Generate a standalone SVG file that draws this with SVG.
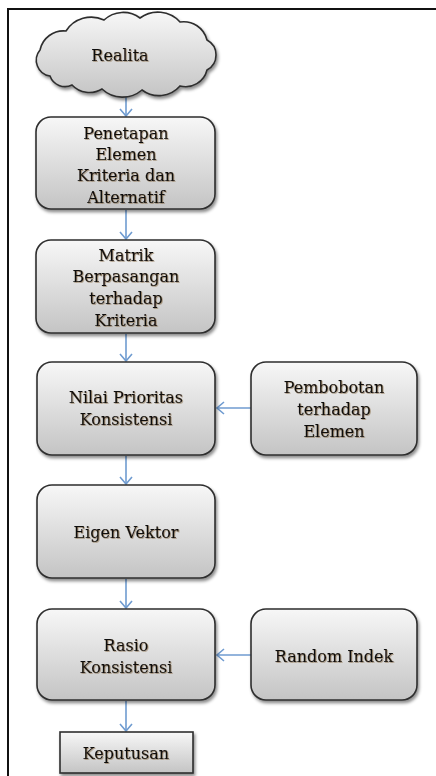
<svg xmlns="http://www.w3.org/2000/svg" width="436" height="776" viewBox="0 0 436 776">
<defs>
<linearGradient id="g" x1="0" y1="0" x2="0" y2="1">
<stop offset="0" stop-color="#f7f7f7"/>
<stop offset="1" stop-color="#c4c4c4"/>
</linearGradient>
<filter id="sh" x="-10%" y="-10%" width="125%" height="130%">
<feDropShadow dx="1.5" dy="2.5" stdDeviation="1.8" flood-color="#000" flood-opacity="0.45"/>
</filter>
<filter id="ts" x="-5%" y="-20%" width="110%" height="150%">
<feDropShadow dx="0.8" dy="0.8" stdDeviation="0.5" flood-color="#7a5a30" flood-opacity="0.6"/>
</filter>
<marker id="ah" markerWidth="14" markerHeight="14" refX="10" refY="7" orient="auto" markerUnits="userSpaceOnUse">
<path d="M3 1 L10 7 L3 13" fill="none" stroke="#6f9bd0" stroke-width="1.6"/>
</marker>
</defs>
<style>
.box{fill:url(#g);stroke:#2e2e2e;stroke-width:1.6;filter:url(#sh)}
.t{font-family:"DejaVu Serif","Liberation Serif",serif;font-size:16px;fill:#111;stroke:#111;stroke-width:0.12;text-anchor:middle;dominant-baseline:central;filter:url(#ts)}
.c{stroke:#6f9bd0;stroke-width:1.6;fill:none;marker-end:url(#ah)}
</style>
<rect width="436" height="776" fill="#fff"/>
<path d="M8 776 V9 H436" fill="none" stroke="#111" stroke-width="2"/>
<g id="connectors">
<line class="c" x1="126" y1="92" x2="126" y2="116"/>
<line class="c" x1="126" y1="210" x2="126" y2="239"/>
<line class="c" x1="126" y1="334" x2="126" y2="361"/>
<line class="c" x1="126" y1="456" x2="126" y2="484"/>
<line class="c" x1="126" y1="579" x2="126" y2="608"/>
<line class="c" x1="126" y1="701" x2="126" y2="731"/>
<line class="c" x1="251" y1="408" x2="217" y2="408"/>
<line class="c" x1="251" y1="655" x2="217" y2="655"/>
</g>
<g id="realita">
<path class="box" d="M50 76 A16 16 0 0 1 40 50 A24 24 0 0 1 66 31 A30 30 0 0 1 104 20 A28 28 0 0 1 140 18 A30 30 0 0 1 180 22 A24 24 0 0 1 207 40 A17 17 0 0 1 207 70 A22 22 0 0 1 180 86 A28 28 0 0 1 142 90 A30 30 0 0 1 102 89 A24 24 0 0 1 72 85 A16 16 0 0 1 50 76 Z"/>
<text class="t" x="120" y="55">Realita</text>
</g>
<g id="penetapan">
<rect class="box" x="36" y="117" width="179" height="92" rx="15"/>
<text class="t" x="126" y="133">Penetapan</text>
<text class="t" x="126" y="154">Elemen</text>
<text class="t" x="126" y="175">Kriteria dan</text>
<text class="t" x="126" y="197">Alternatif</text>
</g>
<g id="matrik">
<rect class="box" x="36" y="240" width="179" height="93" rx="15"/>
<text class="t" x="126" y="255">Matrik</text>
<text class="t" x="126" y="276">Berpasangan</text>
<text class="t" x="126" y="298">terhadap</text>
<text class="t" x="126" y="320">Kriteria</text>
</g>
<g id="nilai">
<rect class="box" x="37" y="362" width="178" height="93" rx="15"/>
<text class="t" x="126" y="397">Nilai Prioritas</text>
<text class="t" x="126" y="419">Konsistensi</text>
</g>
<g id="pembobotan">
<rect class="box" x="251" y="362" width="166" height="93" rx="15"/>
<text class="t" x="334" y="387">Pembobotan</text>
<text class="t" x="334" y="409">terhadap</text>
<text class="t" x="334" y="431">Elemen</text>
</g>
<g id="eigen">
<rect class="box" x="37" y="485" width="178" height="93" rx="15"/>
<text class="t" x="126" y="532">Eigen Vektor</text>
</g>
<g id="rasio">
<rect class="box" x="37" y="609" width="178" height="91" rx="15"/>
<text class="t" x="126" y="645">Rasio</text>
<text class="t" x="126" y="667">Konsistensi</text>
</g>
<g id="random">
<rect class="box" x="251" y="609" width="166" height="91" rx="15"/>
<text class="t" x="334" y="656">Random Indek</text>
</g>
<g id="keputusan">
<rect class="box" x="60" y="732" width="133" height="41"/>
<text class="t" x="126" y="753">Keputusan</text>
</g>
</svg>
